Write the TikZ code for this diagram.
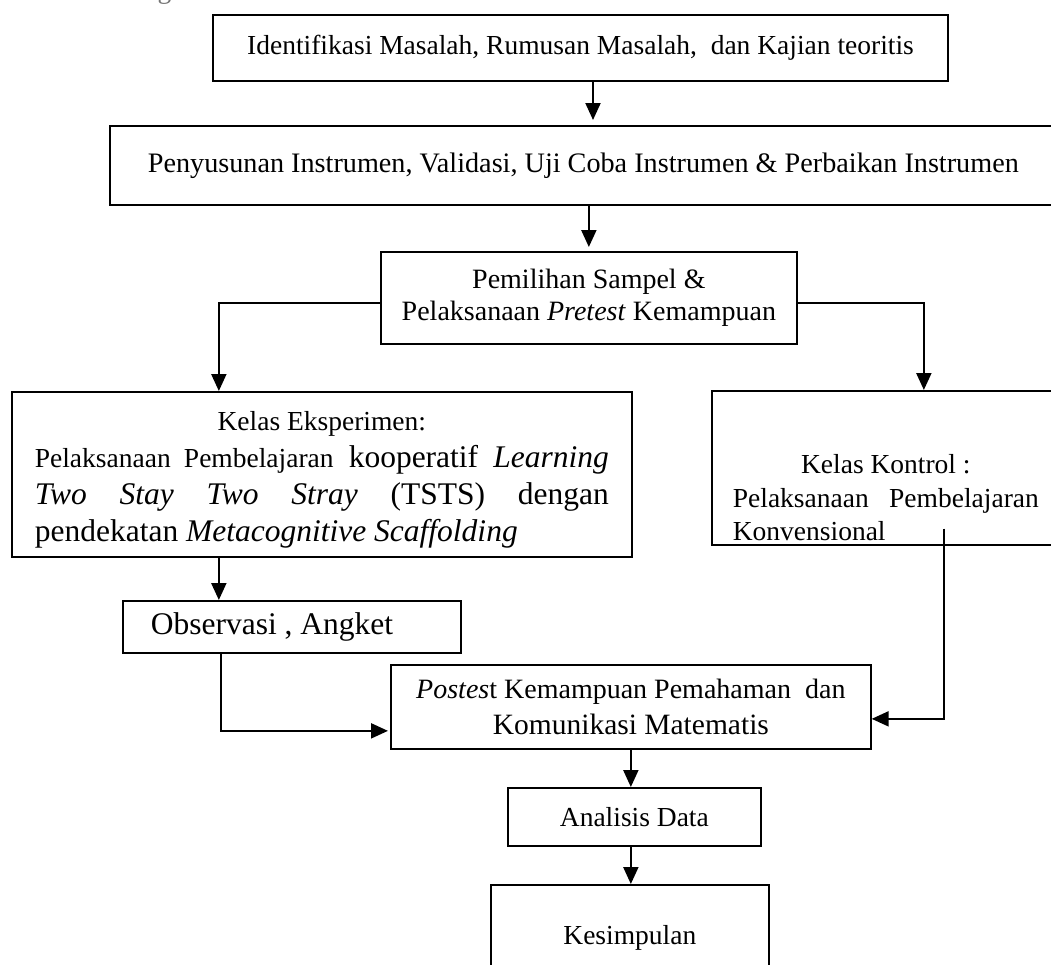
\documentclass[tikz,border=0pt]{standalone}
\usepackage{fontspec}
\setmainfont{Liberation Serif}
\usetikzlibrary{arrows.meta}
\newcommand\inbox[4]{\parbox[c][#2][t]{#1}{\vspace*{#3}#4}}
\newcommand\fsz[1]{\fontsize{#1}{32}\selectfont}
\tikzset{
  bx/.style={draw, line width=1.7pt, inner sep=0pt, anchor=north west,
    font=\fontsize{27.5}{32}\selectfont, align=center},
  conn/.style={line width=2.1pt, -{Triangle[width=15pt,length=17pt]}},
  fragtext/.style={anchor=base west, inner sep=0pt, text=black!55,
    font=\fontsize{27.5}{32}\selectfont}
}
\begin{document}
\begin{tikzpicture}[x=1pt,y=-1pt]
\useasboundingbox (0,0) rectangle (1051,964);
\fill[white] (0,0) rectangle (1051,964);

\node[fragtext] (frag) at (30,-1.5) {adalah sebagai berikut:};

\node[bx, line width=2pt, minimum width=735pt, minimum height=66pt] (b1) at (212,14)
  {Identifikasi Masalah, Rumusan Masalah,~ dan Kajian teoritis};
\node[bx, font=\fsz{28.2}, minimum width=947pt, minimum height=79pt] (b2) at (109,125)
  {Penyusunan Instrumen, Validasi, Uji Coba Instrumen \& Perbaikan Instrumen};
\node[bx, font=\fsz{28}, minimum width=416pt, minimum height=92pt] (b3) at (380,251)
  {Pemilihan Sampel \&\\ Pelaksanaan \textit{Pretest} Kemampuan};
\node[bx, minimum width=620pt, minimum height=165pt] (b4) at (11,391)
  {\inbox{620pt}{165pt}{20pt}{\centering\fontsize{31.5}{37}\selectfont
    {\fontsize{27.5}{37}\selectfont Kelas Eksperimen:}\\
    \makebox[574pt][s]{{\fontsize{27.5}{37}\selectfont Pelaksanaan Pembelajaran} kooperatif \textit{Learning}}\\
    \makebox[574pt][s]{\textit{Two} \textit{Stay} \textit{Two} \textit{Stray} (TSTS) dengan}\\
    \makebox[574pt][l]{pendekatan \textit{Metacognitive Scaffolding}}\par}};
\node[bx, minimum width=345pt, minimum height=154pt] (b5) at (711,390)
  {\inbox{345pt}{154pt}{64pt}{\hspace*{21pt}\parbox[t]{306pt}{\fontsize{27.5}{33.5}\selectfont
    \makebox[306pt][c]{Kelas Kontrol :}\\
    \makebox[306pt][s]{Pelaksanaan~ Pembelajaran}\\
    \makebox[306pt][l]{Konvensional}}}};
\node[bx, font=\fsz{31.5}, minimum width=338pt, minimum height=52pt] (b6) at (122,600)
  {\makebox[338pt][l]{\hspace*{28pt}Observasi , Angket}};
\node[bx, minimum width=480pt, minimum height=84pt] (b7) at (390,664)
  {{\fsz{28}\textit{Postes}t Kemampuan Pemahaman~ dan}\\[4pt]
   {\fsz{29.5}Komunikasi Matematis}};
\node[bx, minimum width=253pt, minimum height=58pt] (b8) at (507,787)
  {Analisis Data};
\node[bx, minimum width=278pt, minimum height=106pt] (b9) at (490,884)
  {Kesimpulan};

\draw[conn, shorten >=5pt] ([xshift=12.5pt]b1.south) -- ([xshift=12.5pt]b1.south |- b2.north);
\draw[conn, shorten >=4pt] (b2.south -| b3.north) -- (b3.north);
\draw[conn] ([yshift=-5pt]b3.west) -| ([xshift=-103pt]b4.north);
\draw[conn] ([yshift=-5pt]b3.east) -| ([xshift=39.5pt]b5.north);
\draw[conn] ([xshift=-103pt]b4.south) -- ([xshift=-103pt]b4.south |- b6.north);
\draw[conn, shorten >=2pt] ([xshift=-71pt]b6.south) |- ([yshift=-24pt]b7.west);
\draw[conn] ([xshift=59.5pt,yshift=17pt]b5.south) |- ([yshift=-12pt]b7.east);
\draw[conn] (b7.south) -- (b7.south |- b8.north);
\draw[conn] (b8.south -| b7.south) -- (b9.north -| b7.south);
\end{tikzpicture}
\end{document}
